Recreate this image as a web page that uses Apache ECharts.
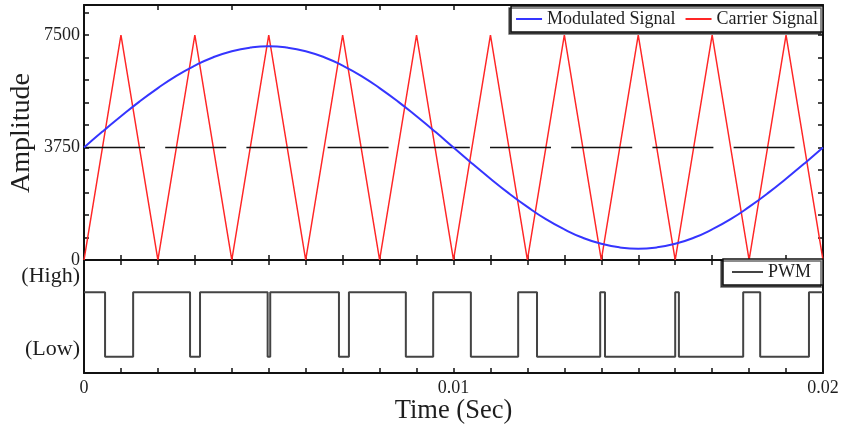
<!DOCTYPE html>
<html>
<head>
<meta charset="utf-8">
<title>PWM</title>
<script src="https://cdn.jsdelivr.net/npm/echarts@6/dist/echarts.min.js"></script>
<style>
  html, body { margin: 0; padding: 0; background: #fff; }
  #main { width: 841px; height: 425px; }
</style>
</head>
<body>
<div id="main"></div>
<script>
// time (s) / amplitude samples
var modTime = [0, 0.0005, 0.001, 0.0015, 0.002, 0.0025, 0.003, 0.0035, 0.004, 0.0045,
  0.005, 0.0055, 0.006, 0.0065, 0.007, 0.0075, 0.008, 0.0085, 0.009, 0.0095,
  0.01, 0.0105, 0.011, 0.0115, 0.012, 0.0125, 0.013, 0.0135, 0.014, 0.0145,
  0.015, 0.0155, 0.016, 0.0165, 0.017, 0.0175, 0.018, 0.0185, 0.019, 0.0195, 0.02];
var modValues = [3750, 4280, 4790, 5280, 5730, 6140, 6480, 6760, 6960, 7080,
  7125, 7080, 6960, 6760, 6480, 6140, 5730, 5280, 4790, 4280,
  3750, 3220, 2710, 2220, 1770, 1360, 1020, 740, 540, 420,
  375, 420, 540, 740, 1020, 1360, 1770, 2220, 2710, 3220, 3750];

var carrierTime = [0, 0.001, 0.002, 0.003, 0.004, 0.005, 0.006, 0.007, 0.008, 0.009, 0.01,
  0.011, 0.012, 0.013, 0.014, 0.015, 0.016, 0.017, 0.018, 0.019, 0.02];
var carrierValues = [0, 7500, 0, 7500, 0, 7500, 0, 7500, 0, 7500, 0,
  7500, 0, 7500, 0, 7500, 0, 7500, 0, 7500, 0];

// reference level (dashed)
var refLevel = 3750;
var refEnd = 0.01923;

// PWM switching instants, starts high
var pwmEdges = [0.00057, 0.00133, 0.00287, 0.00314, 0.00497, 0.00504, 0.0069, 0.00717,
  0.00871, 0.00945, 0.01047, 0.01175, 0.01226, 0.01397, 0.0141, 0.016, 0.0161,
  0.01784, 0.0183, 0.01962];

var yTicksShown = [0, 3750, 7500];
var xTicksShown = [0, 0.01, 0.02];

var modData = modTime.map(function (t, i) { return [t, modValues[i]]; });
var carrierData = carrierTime.map(function (t, i) { return [t, carrierValues[i]]; });

var pwmData = [[0, 1]];
var level = 1;
pwmEdges.forEach(function (t) {
  pwmData.push([t, level]);
  level = 1 - level;
  pwmData.push([t, level]);
});
pwmData.push([0.02, level]);

var font = 'Liberation Serif';
var ink = '#1e1e1e';

function near(a, b) { return Math.abs(a - b) < 1e-7; }

var axLine = { show: true, onZero: false, lineStyle: { color: '#111', width: 2 } };
var tickIn = { show: true, inside: true, length: 5, lineStyle: { color: '#111', width: 1.5 } };

var chart = echarts.init(document.getElementById('main'));

chart.setOption({
  backgroundColor: '#fff',
  animation: false,
  // fixed plot boxes, no auto shrink for the labels
  grid: [
    { left: 84, right: 18, top: 5, height: 255, containLabel: false, outerBoundsMode: 'none' },
    { left: 84, right: 18, top: 260, height: 113, containLabel: false, outerBoundsMode: 'none' }
  ],
  // y title placed by hand, the axis name kept getting pushed out by the labels
  graphic: [{
    type: 'text', x: 22, y: 133, rotation: Math.PI / 2,
    style: { text: 'Amplitude', fontFamily: font, fontSize: 28, fill: ink,
      align: 'center', verticalAlign: 'middle' }
  }],
  legend: [
    {
      data: ['Modulated Signal', 'Carrier Signal'],
      right: 18, top: 6,
      icon: 'rect', itemWidth: 26, itemHeight: 2, itemGap: 10,
      padding: [4, 5],
      borderColor: '#111', borderWidth: 1.5,
      backgroundColor: '#fff',
      shadowColor: 'rgba(0,0,0,0.6)', shadowOffsetX: -2, shadowOffsetY: 2,
      textStyle: { fontFamily: font, fontSize: 18, color: ink }
    },
    {
      data: ['PWM'],
      right: 18, top: 259,
      icon: 'rect', itemWidth: 31, itemHeight: 2,
      padding: [4, 12, 4, 9],
      borderColor: '#111', borderWidth: 1.5,
      backgroundColor: '#fff',
      shadowColor: 'rgba(0,0,0,0.6)', shadowOffsetX: -2, shadowOffsetY: 2,
      textStyle: { fontFamily: font, fontSize: 18, color: ink }
    }
  ],
  xAxis: [
    // top plot, bottom edge
    { type: 'value', gridIndex: 0, min: 0, max: 0.02, interval: 0.001,
      axisLine: axLine, axisTick: tickIn, axisLabel: { show: false }, splitLine: { show: false } },
    // top plot, top edge
    { type: 'value', gridIndex: 0, position: 'top', min: 0, max: 0.02, interval: 0.002,
      axisLine: axLine, axisTick: tickIn, axisLabel: { show: false }, splitLine: { show: false } },
    // bottom plot, bottom edge with labels
    { type: 'value', gridIndex: 1, min: 0, max: 0.02, interval: 0.001,
      name: 'Time (Sec)', nameLocation: 'middle', nameGap: 24,
      nameTextStyle: { fontFamily: font, fontSize: 26.5, color: ink },
      axisLine: axLine, axisTick: tickIn, splitLine: { show: false },
      axisLabel: {
        show: true, showMinLabel: true, showMaxLabel: true, margin: 6,
        fontFamily: font, fontSize: 18, color: ink,
        formatter: function (v) {
          for (var i = 0; i < xTicksShown.length; i++) {
            if (near(v, xTicksShown[i])) return String(xTicksShown[i]);
          }
          return '';
        }
      } },
    // bottom plot, top edge
    { type: 'value', gridIndex: 1, position: 'top', min: 0, max: 0.02, interval: 0.001,
      axisLine: axLine, axisTick: tickIn, axisLabel: { show: false }, splitLine: { show: false } }
  ],
  yAxis: [
    { type: 'value', gridIndex: 0, min: 0, max: 8500, interval: 750,
      axisLine: axLine, axisTick: tickIn, splitLine: { show: false },
      axisLabel: {
        margin: 4, fontFamily: font, fontSize: 18, color: ink,
        formatter: function (v) { return yTicksShown.indexOf(v) >= 0 ? String(v) : ''; }
      } },
    { type: 'value', gridIndex: 0, position: 'right', min: 0, max: 8500, interval: 750,
      axisLine: axLine, axisTick: tickIn, axisLabel: { show: false }, splitLine: { show: false } },
    { type: 'value', gridIndex: 1, min: -0.25, max: 1.5, interval: 0.125,
      axisLine: axLine, axisTick: { show: false }, splitLine: { show: false },
      axisLabel: {
        margin: 4, fontFamily: font, fontSize: 22, color: ink,
        formatter: function (v) {
          if (near(v, 1.25)) return '(High)';
          if (near(v, 0.125)) return '(Low)';
          return '';
        }
      } },
    { type: 'value', gridIndex: 1, position: 'right', min: -0.25, max: 1.5,
      axisLine: axLine, axisTick: { show: false }, axisLabel: { show: false }, splitLine: { show: false } }
  ],
  series: [
    { name: 'Carrier Signal', type: 'line', xAxisIndex: 0, yAxisIndex: 0,
      data: carrierData, showSymbol: false, color: '#ff2626',
      lineStyle: { width: 1.5, color: '#ff2626' } },
    { name: 'ref', type: 'line', xAxisIndex: 0, yAxisIndex: 0,
      data: [[0, refLevel], [refEnd, refLevel]], showSymbol: false, color: '#111',
      lineStyle: { width: 1.5, color: '#111', type: [61, 20.2] } },
    { name: 'Modulated Signal', type: 'line', xAxisIndex: 0, yAxisIndex: 0,
      data: modData, smooth: true, showSymbol: false, color: '#3535ff',
      lineStyle: { width: 2, color: '#3535ff' } },
    { name: 'PWM', type: 'line', xAxisIndex: 2, yAxisIndex: 2,
      data: pwmData, showSymbol: false, color: '#444',
      lineStyle: { width: 2, color: '#444' } }
  ]
});
</script>
</body>
</html>
